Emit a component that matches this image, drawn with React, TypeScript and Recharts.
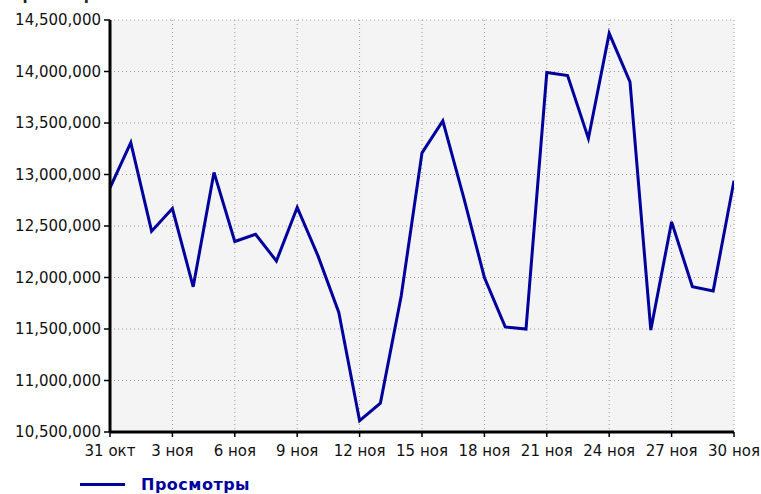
import React from 'react';
import { LineChart, Line, XAxis, YAxis, CartesianGrid } from 'recharts';

// days from 31 Oct to 30 Nov
const dayLabels = [
  '31 окт', '1 ноя', '2 ноя', '3 ноя', '4 ноя', '5 ноя', '6 ноя', '7 ноя',
  '8 ноя', '9 ноя', '10 ноя', '11 ноя', '12 ноя', '13 ноя', '14 ноя', '15 ноя',
  '16 ноя', '17 ноя', '18 ноя', '19 ноя', '20 ноя', '21 ноя', '22 ноя', '23 ноя',
  '24 ноя', '25 ноя', '26 ноя', '27 ноя', '28 ноя', '29 ноя', '30 ноя',
];

const views = [
  12870000, 13310000, 12450000, 12670000, 11910000, 13020000, 12350000, 12420000,
  12160000, 12680000, 12210000, 11660000, 10610000, 10780000, 11820000, 13210000,
  13520000, 12780000, 12000000, 11520000, 11500000, 13990000, 13960000, 13350000,
  14370000, 13900000, 11490000, 12540000, 11910000, 11870000, 12940000,
];

const xTicks = [0, 3, 6, 9, 12, 15, 18, 21, 24, 27, 30];
const yTicks = [10500000, 11000000, 11500000, 12000000, 12500000, 13000000, 13500000, 14000000, 14500000];

const data = views.map((v, i) => ({ day: i, label: dayLabels[i], views: v }));

const FONT = '"DejaVu Sans", Tahoma, sans-serif';
const LINE = '#00009c';

export default function App() {
  return (
    <div style={{ position: 'fixed', left: 0, top: 0, width: 761, height: 494, background: '#fff', overflow: 'hidden', fontFamily: FONT }}>
      {/* axis title, cut off by the top edge like in the original screenshot */}
      <div style={{ position: 'absolute', left: 10, top: -14, fontSize: 15, fontWeight: 'bold', color: '#222' }}>
        Просмотры
      </div>
      <LineChart width={761} height={494} data={data} margin={{ top: 20, right: 27, left: 0, bottom: 0 }}>
        <CartesianGrid fill="#f4f4f4" stroke="#9a9a9a" strokeDasharray="1 3" />
        <XAxis
          dataKey="day"
          type="number"
          domain={[0, 30]}
          ticks={xTicks}
          tickFormatter={(d: number) => dayLabels[d]}
          height={62}
          axisLine={{ stroke: '#000', strokeWidth: 3 }}
          tickLine={{ stroke: '#000', strokeWidth: 1.5 }}
          tickSize={5}
          tickMargin={8}
          tick={{ fill: '#111', fontSize: 15, fontFamily: FONT }}
          allowDataOverflow
        />
        <YAxis
          type="number"
          domain={[10500000, 14500000]}
          ticks={yTicks}
          width={110}
          tickFormatter={(v: number) => v.toLocaleString('en-US')}
          axisLine={{ stroke: '#000', strokeWidth: 3 }}
          tickLine={{ stroke: '#000', strokeWidth: 1.5 }}
          tickSize={6}
          tickMargin={3}
          tick={{ fill: '#111', fontSize: 15, fontFamily: FONT }}
          allowDataOverflow
        />
        <Line
          type="linear"
          dataKey="views"
          stroke={LINE}
          strokeWidth={3}
          dot={false}
          activeDot={false}
          isAnimationActive={false}
        />
      </LineChart>
      <div style={{ position: 'absolute', left: 80, top: 475, display: 'flex', alignItems: 'center' }}>
        <div style={{ width: 45, height: 3, background: LINE }} />
        <span style={{ marginLeft: 16, color: LINE, fontWeight: 'bold', fontSize: 16, letterSpacing: 0.5, fontFamily: FONT }}>Просмотры</span>
      </div>
    </div>
  );
}
